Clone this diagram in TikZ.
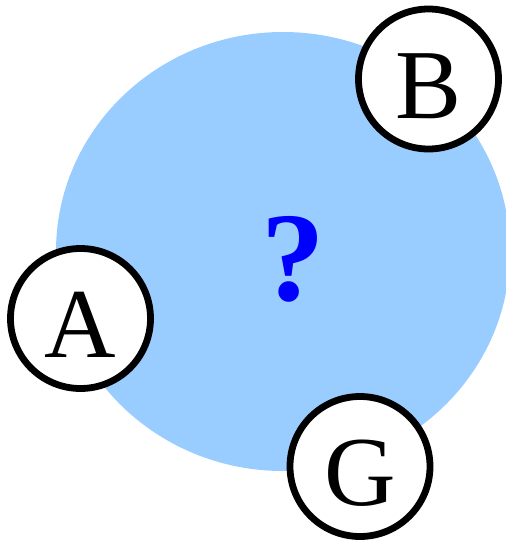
\documentclass[tikz,border=0pt]{standalone}
\usepackage{fontspec}
\setmainfont{Liberation Serif}
\usetikzlibrary{shapes.geometric}
\definecolor{cRegion}{HTML}{99CCFF}
\definecolor{cQuery}{HTML}{0000FF}
\tikzset{
  agent/.style={circle, draw=black, fill=white, line width=6.8pt,
    minimum size=140pt, inner sep=0pt, text height=78pt, text depth=0pt,
    font=\fontsize{99}{99}\selectfont},
}
\begin{document}
\begin{tikzpicture}[x=1pt, y=-1pt]
  \useasboundingbox (0,0) rectangle (506,544);
  % shared region
  \node[ellipse, fill=cRegion, minimum width=454pt, minimum height=439pt,
        inner sep=0pt] (region) at (283,251.5) {};
  \node[anchor=base, text=cQuery, inner sep=0pt,
        font=\fontsize{127}{127}\selectfont\bfseries] (query) at (293,300) {?};
  % agents
  \node[agent] (b) at (428.5,79) {B};
  \node[agent] (a) at (80.5,318.5) {A};
  \node[agent] (g) at (360,466.5) {G};
\end{tikzpicture}
\end{document}
